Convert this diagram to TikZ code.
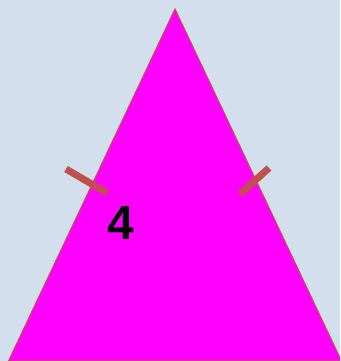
\documentclass[tikz,border=0pt]{standalone}
\usepackage{fontspec}
\setmainfont{Liberation Sans}
\definecolor{bgblue}{RGB}{211,223,236}
\definecolor{tick}{RGB}{192,80,77}
\definecolor{magentafill}{RGB}{255,0,255}
\begin{document}
\begin{tikzpicture}[x=1pt,y=1pt,
  tickmark/.style={draw=tick,line width=7pt},
  tri/.style={fill=magentafill,draw=tick,line width=1pt}]
\useasboundingbox (0,0) rectangle (340,361);
\clip (0,0) rectangle (340,361);
\fill[bgblue] (0,0) rectangle (340,361);
\coordinate (A) at (175,352);
\coordinate (B) at (8.5,0);
\coordinate (C) at (341.5,0);
\draw[tri] (B) -- (A) -- (C) -- cycle;
\coordinate (l1) at (66,192);
\coordinate (l2) at (107,168);
\coordinate (r1) at (240,167);
\coordinate (r2) at (269,193);
\draw[tickmark] (l1) -- (l2);
\draw[tickmark] (r1) -- (r2);
\node[font=\fontsize{48}{48}\selectfont\bfseries,inner sep=0pt] (lbl) at (120.5,138) {4};
\end{tikzpicture}
\end{document}
